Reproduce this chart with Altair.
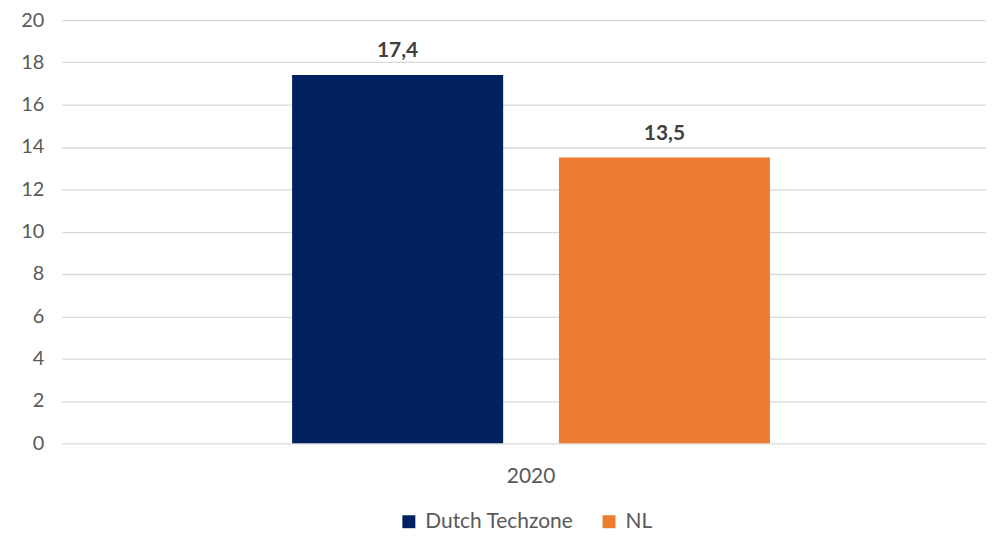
import altair as alt
import pandas as pd

years = ["2020", "2020"]
series = ["Dutch Techzone", "NL"]
values = [17.4, 13.5]
labels = ["17,4", "13,5"]
colors = ["#002060", "#ED7D31"]
y_ticks = [0, 2, 4, 6, 8, 10, 12, 14, 16, 18, 20]

df = pd.DataFrame({"year": years, "series": series, "value": values, "label": labels})

FONT = "Lato"

x = alt.X("year:N", title=None,
          scale=alt.Scale(paddingInner=0, paddingOuter=0.467, align=0.516),
          axis=alt.Axis(labelAngle=0, domain=False, ticks=False, labelPadding=22,
                        labelFontSize=21, labelColor="#595959", labelFont=FONT))
xo = alt.XOffset("series:N", sort=series,
                 scale=alt.Scale(paddingInner=0.209, paddingOuter=0))
y = alt.Y("value:Q", title=None,
          scale=alt.Scale(domain=[0, 20], nice=False, zero=True),
          axis=alt.Axis(values=y_ticks, domain=False, ticks=False, labelPadding=18,
                        grid=True, gridColor="#D9D9D9", gridWidth=1.3,
                        labelFontSize=20, labelColor="#595959", labelFont=FONT))

bars = alt.Chart(df).mark_bar().encode(
    x=x, xOffset=xo, y=y,
    color=alt.Color("series:N", sort=series, title=None,
                    scale=alt.Scale(domain=series, range=colors),
                    legend=alt.Legend(orient="none", legendX=338, legendY=493,
                                      direction="horizontal", symbolType="square",
                                      symbolSize=169, symbolStrokeWidth=0,
                                      labelFontSize=21, labelColor="#595959",
                                      labelFont=FONT, labelOffset=6, columnPadding=25)),
)

text = alt.Chart(df).mark_text(baseline="alphabetic", dy=-18, fontSize=21, fontWeight="bold",
                               color="#404040", font=FONT).encode(
    x=x, xOffset=xo, y=y, text="label:N")

chart = alt.layer(bars, text).properties(
    width=928, height=425,
    autosize=alt.AutoSizeParams(type="none"),
    padding={"left": 54, "top": 11, "right": 0, "bottom": 92},
).configure_view(stroke=None)

chart.save("out.html", embed_options={"renderer": "svg", "actions": False})
